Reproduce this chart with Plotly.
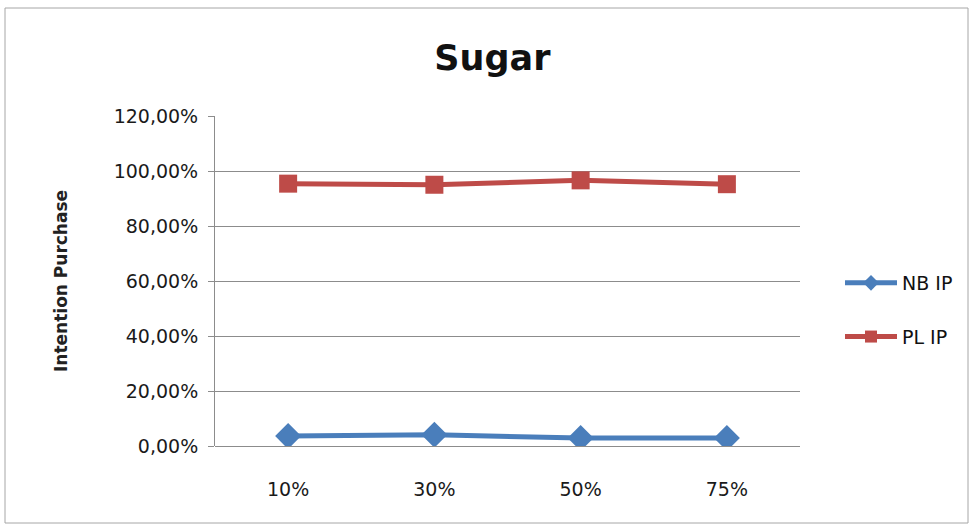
import plotly.graph_objects as go

# Discount levels and purchase intention shares (fractions)
categories = ["10%", "30%", "50%", "75%"]
nb_ip = [0.036, 0.041, 0.029, 0.029]
pl_ip = [0.954, 0.950, 0.966, 0.952]

y_tick_values = [0, 0.2, 0.4, 0.6, 0.8, 1.0, 1.2]
y_tick_labels = ["0,00%", "20,00%", "40,00%", "60,00%", "80,00%", "100,00%", "120,00%"]

FONT = "DejaVu Sans"
BLUE = "#4A7EBB"
RED = "#BE4B48"
GRID = "#8C8C8C"

fig = go.Figure()
fig.add_trace(go.Scatter(
    x=categories, y=nb_ip, name="NB IP", mode="lines+markers",
    line=dict(color=BLUE, width=5),
    marker=dict(symbol="diamond", size=20, color=BLUE),
    legendgroup="nb",
))
fig.add_trace(go.Scatter(
    x=categories, y=pl_ip, name="PL IP", mode="lines+markers",
    line=dict(color=RED, width=5),
    marker=dict(symbol="square", size=18, color=RED),
    legendgroup="pl",
))

W, H = 975, 529
L, R, T, B = 215, 175, 116, 83
pw, ph = W - L - R, H - T - B

def px_x(x):
    return (x - L) / pw

def px_y(y):
    return (H - B - y) / ph

fig.update_layout(
    width=W, height=H,
    margin=dict(l=L, r=R, t=T, b=B),
    paper_bgcolor="white", plot_bgcolor="white",
    font=dict(family=FONT, size=18, color="#1A1A1A"),
    title=dict(text="<b>Sugar</b>", x=0.505, xanchor="center",
               y=1 - 58 / H, yanchor="middle", font=dict(size=35, color="#111111")),
    xaxis=dict(
        type="category", range=[-0.5, 3.5],
        showgrid=False, showline=False, zeroline=False,
        ticks="", tickfont=dict(size=19), ticklabelstandoff=30,
    ),
    yaxis=dict(
        range=[0, 1.2], tickvals=y_tick_values, ticktext=y_tick_labels,
        showgrid=True, gridcolor=GRID, gridwidth=1,
        showline=True, linecolor=GRID, linewidth=1,
        zeroline=True, zerolinecolor=GRID, zerolinewidth=1,
        ticks="outside", ticklen=6, tickcolor=GRID,
        tickfont=dict(size=19), ticklabelstandoff=6,
    ),
    legend=dict(
        x=px_x(840), y=px_y(310), xanchor="left", yanchor="middle",
        font=dict(size=19, color="#111111"), tracegroupgap=26,
        itemsizing="constant", itemwidth=52, bgcolor="rgba(0,0,0,0)",
    ),
    showlegend=True,
    shapes=[dict(
        type="rect", xref="paper", yref="paper",
        x0=px_x(5), x1=px_x(968), y0=px_y(523), y1=px_y(8),
        line=dict(color="#A6A6A6", width=1), layer="below",
    )],
    annotations=[dict(
        text="<b>Intention Purchase</b>", xref="paper", yref="paper",
        x=px_x(61), y=0.5, textangle=-90, showarrow=False,
        xanchor="center", yanchor="middle", font=dict(size=17, color="#222222"),
    )],
)

fig.write_html("out.html")
